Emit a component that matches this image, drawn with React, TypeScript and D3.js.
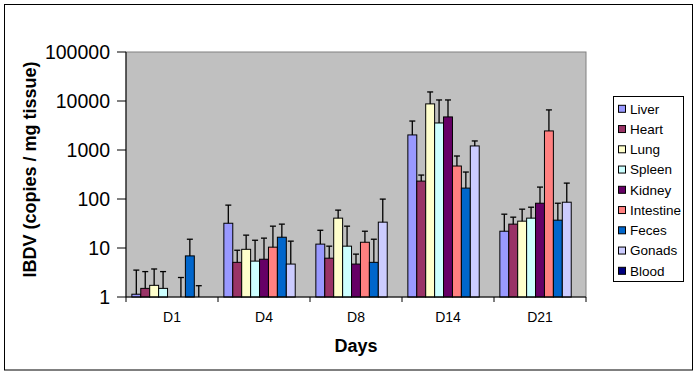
import React from "react";
import * as d3 from "d3";

const categories = ["D1", "D4", "D8", "D14", "D21"];
const seriesNames = ["Liver", "Heart", "Lung", "Spleen", "Kidney", "Intestine", "Feces", "Gonads", "Blood"];
const seriesColors = ["#9999FF", "#993366", "#FFFFCC", "#CCFFFF", "#660066", "#FF8080", "#0066CC", "#CCCCFF", "#000080"];
const yTicks = [1, 10, 100, 1000, 10000, 100000];

// mean values per series across categories
const liver = [1.14, 32, 12, 2030, 22];
const heart = [1.5, 5.1, 6.2, 232, 30.7];
const lung = [1.73, 9.4, 40.7, 8730, 35.3];
const spleen = [1.5, 5.4, 10.9, 3560, 40.7];
const kidney = [null, 5.9, 4.7, 4730, 82];
const intestine = [1, 10.4, 13.1, 471, 2450];
const feces = [6.9, 16.6, 5.1, 167, 37];
const gonads = [1, 4.7, 33.7, 1210, 86];
const blood = [null, null, null, null, null];

// plus error (SD) per series
const liverSd = [2.4, 43, 11, 1870, 27];
const heartSd = [1.8, 3.9, 4.7, 76, 11.9];
const lungSd = [2.0, 8.9, 18.6, 6570, 26.7];
const spleenSd = [1.8, 9.0, 17.0, 6940, 27.3];
const kidneySd = [null, 10.0, 2.8, 5770, 93];
const intestineSd = [1.5, 17.5, 8.9, 283, 4130];
const fecesSd = [8.2, 14.1, 10.0, 188, 45];
const gonadsSd = [0.7, 9.1, 65.8, 320, 125];
const bloodSd = [null, null, null, null, null];

const values = [liver, heart, lung, spleen, kidney, intestine, feces, gonads, blood];
const sds = [liverSd, heartSd, lungSd, spleenSd, kidneySd, intestineSd, fecesSd, gonadsSd, bloodSd];

const W = 699, H = 375;
const plot = { left: 126, right: 586, top: 52, bottom: 297 };
const FONT = "'Liberation Sans', Arial, sans-serif";

export default function App() {
  const x0 = d3.scaleBand<string>().domain(categories).range([plot.left, plot.right]);
  const x1 = d3.scaleBand<string>().domain(seriesNames).range([0, x0.bandwidth()]).paddingInner(0).paddingOuter(0.656);
  const y = d3.scaleLog().domain([1, 100000]).range([plot.bottom, plot.top]);

  const bars: React.ReactNode[] = [];
  const errs: React.ReactNode[] = [];
  categories.forEach((c, ci) => {
    seriesNames.forEach((s, si) => {
      const v = values[si][ci];
      if (v == null) return;
      const bx = (x0(c) as number) + (x1(s) as number);
      const bw = x1.bandwidth();
      const top = y(v);
      if (v > 1) {
        bars.push(
          <rect key={`b-${c}-${s}`} x={bx} y={top} width={bw} height={plot.bottom - top}
            fill={seriesColors[si]} stroke="#000" strokeWidth={1} />
        );
      }
      const sd = sds[si][ci];
      if (sd != null) {
        const ey = y(v + sd);
        const cx = bx + bw / 2;
        errs.push(
          <g key={`e-${c}-${s}`} stroke="#000" strokeWidth={1.3}>
            <line x1={cx} x2={cx} y1={top} y2={ey} />
            <line x1={cx - 3} x2={cx + 3} y1={ey} y2={ey} />
          </g>
        );
      }
    });
  });

  const catEdges = [...categories.map((c) => x0(c) as number), plot.right];

  return (
    <svg width={W} height={H} style={{ position: "absolute", left: 0, top: 0, background: "#fff" }}
      fontFamily={FONT}>
      <rect x={4.5} y={4.5} width={688} height={365.5} fill="#fff" stroke="#000" strokeWidth={1} />
      <rect x={plot.left} y={plot.top} width={plot.right - plot.left} height={plot.bottom - plot.top}
        fill="#C0C0C0" stroke="#808080" strokeWidth={1} />
      {bars}
      {errs}
      {/* y axis */}
      <line x1={plot.left} x2={plot.left} y1={plot.top} y2={plot.bottom} stroke="#000" />
      {yTicks.map((t) => (
        <g key={`yt-${t}`}>
          <line x1={plot.left - 9} x2={plot.left} y1={y(t)} y2={y(t)} stroke="#000" />
          <text x={110} y={y(t)} dy="0.36em" textAnchor="end" fontSize={19.5} fill="#000">{t}</text>
        </g>
      ))}
      {/* x axis */}
      <line x1={plot.left} x2={plot.right} y1={plot.bottom} y2={plot.bottom} stroke="#000" />
      {catEdges.map((e, i) => (
        <line key={`xt-${i}`} x1={e} x2={e} y1={plot.bottom} y2={plot.bottom + 5} stroke="#000" />
      ))}
      {categories.map((c) => (
        <text key={`xl-${c}`} x={(x0(c) as number) + x0.bandwidth() / 2} y={322} textAnchor="middle"
          fontSize={14} fill="#000">{c}</text>
      ))}
      <text x={(plot.left + plot.right) / 2} y={352} textAnchor="middle" fontSize={18} fontWeight="bold">Days</text>
      <text transform={`translate(36, ${(plot.top + plot.bottom) / 2 - 5}) rotate(-90)`} textAnchor="middle"
        fontSize={18} fontWeight="bold">IBDV (copies / mg tissue)</text>
      {/* legend */}
      <rect x={613.5} y={96.5} width={70} height={185} fill="#fff" stroke="#000" strokeWidth={1} />
      {seriesNames.map((s, i) => {
        const cy = 108.8 + i * 20.25;
        return (
          <g key={`lg-${s}`}>
            <rect x={618.5} y={cy - 3.5} width={7} height={7} fill={seriesColors[i]} stroke="#000" strokeWidth={1} />
            <text x={630} y={cy} dy="0.36em" fontSize={13.5} fill="#000">{s}</text>
          </g>
        );
      })}
    </svg>
  );
}
